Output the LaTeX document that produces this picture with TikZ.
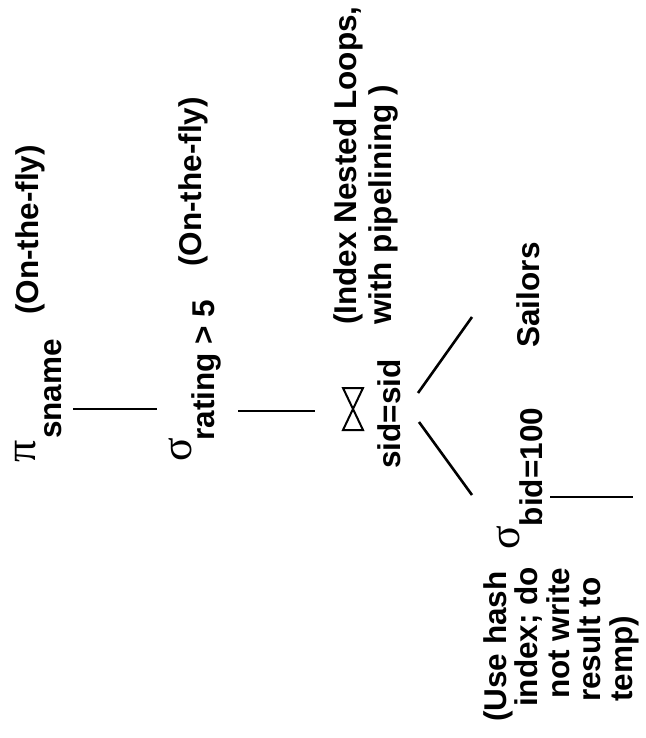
\documentclass[tikz,border=0pt]{standalone}
\usepackage{fontspec}
\setmainfont{Liberation Sans}
\newfontfamily\grkfont{Liberation Serif}
\begin{document}
\begin{tikzpicture}[x=1pt,y=-1pt,
  lbl/.style={rotate=90,inner sep=0pt,font=\bfseries\fontsize{31.5}{35}\selectfont},
  grk/.style={rotate=90,inner sep=0pt,font=\grkfont\fontsize{44}{44}\selectfont},
  edge/.style={line width=2.6pt},
  joinsym/.style={line width=2pt,line join=miter}]
\useasboundingbox (0,0) rectangle (645,738);
% projection
\node[grk,font=\grkfont\fontsize{44}{44}\selectfont] (pi) at (26,451) {π};
\node[lbl] (sname) at (53,389) {sname};
\node[lbl] (otf1) at (30,230) {(On-the-fly)};
\coordinate (l1a) at (73,409);
\coordinate (l1b) at (157,409);
\draw[edge] (l1a) -- (l1b);
% selection rating
\node[grk] (sig1) at (180,450) {σ};
\node[lbl] (rating) at (206,370) {rating > 5};
\node[lbl] (otf2) at (193,182) {(On-the-fly)};
\coordinate (l2a) at (238,411);
\coordinate (l2b) at (315,411);
\draw[edge] (l2a) -- (l2b);
% join
\coordinate (bow) at (353,409);
\draw[joinsym] (343,388) -- (363,388) -- (343,430) -- (363,430) -- cycle;
\node[lbl] (sidsid) at (389,414) {sid=sid};
\node[lbl,align=left,anchor=west,font=\bfseries\fontsize{31.5}{35}\selectfont] (inl) at (366,325) {(Index Nested Loops,\\with pipelining )};
\coordinate (u1) at (418,393);
\coordinate (u2) at (472,317);
\coordinate (d1) at (419,422);
\coordinate (d2) at (472,495);
\draw[edge] (u1) -- (u2);
\draw[edge] (d1) -- (d2);
% leaves
\node[lbl] (sailors) at (528,295) {Sailors};
\node[grk] (sig2) at (508,538) {σ};
\node[lbl] (bid) at (531,467) {bid=100};
\coordinate (l3a) at (550,497);
\coordinate (l3b) at (633,497);
\draw[edge] (l3a) -- (l3b);
\node[lbl,align=left,anchor=west,font=\bfseries\fontsize{31.5}{31.5}\selectfont] (hash) at (561,722) {(Use hash\\\hspace*{15pt}index; do\\\hspace*{23pt}not write\\\hspace*{20pt}result to\\\hspace*{20pt}temp)};
\end{tikzpicture}
\end{document}
